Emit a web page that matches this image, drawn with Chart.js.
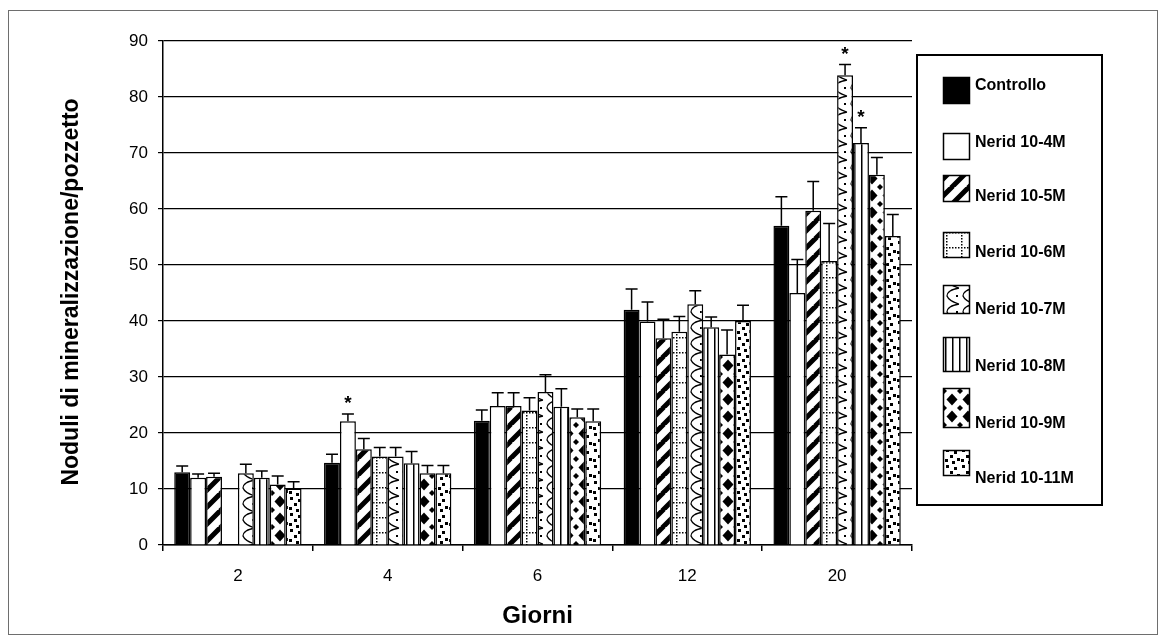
<!DOCTYPE html>
<html>
<head>
<meta charset="utf-8">
<script src="https://cdn.jsdelivr.net/npm/chart.js@4"></script>
<style>
  html, body { margin: 0; padding: 0; background: #fff; }
  canvas { display: block; }
</style>
</head>
<body>
<canvas id="chart" width="1166" height="641"></canvas>
<script>
// Giorni di coltura
const categories = ['2', '4', '6', '12', '20'];

// Noduli di mineralizzazione per pozzetto (media)
const controllo = [13, 14.7, 22.2, 42, 57];
const nerid4  = [12, 22.1, 24.8, 39.9, 45];
const nerid5  = [12.2, 17.1, 24.8, 36.9, 59.7];
const nerid6  = [null, 15.8, 24, 38.1, 50.7];
const nerid7  = [12.8, 15.8, 27.3, 43, 83.9];
const nerid8  = [12, 14.6, 24.7, 38.9, 71.8];
const nerid9  = [10.8, 12.8, 22.8, 34, 66.1];
const nerid11 = [10.1, 12.8, 22.1, 40, 55.2];

// Deviazione standard (barra superiore)
const errControllo = [1.1, 1.5, 1.9, 3.7, 5.2];
const errNerid4  = [0.7, 1.3, 2.4, 3.5, 6];
const errNerid5  = [0.6, 1.9, 2.4, 3.4, 5.2];
const errNerid6  = [1, 1.6, 2.3, 2.7, 6.7];
const errNerid7  = [1.6, 1.6, 3.1, 2.4, 1.9];
const errNerid8  = [1.2, 2.1, 3.2, 1.8, 2.7];
const errNerid9  = [1.5, 1.4, 1.5, 4.4, 3.1];
const errNerid11 = [1.2, 1.4, 2.2, 2.8, 3.8];

const seriesLabels = ['Controllo', 'Nerid 10-4M', 'Nerid 10-5M', 'Nerid 10-6M',
                      'Nerid 10-7M', 'Nerid 10-8M', 'Nerid 10-9M', 'Nerid 10-11M'];

// Differenze significative (*): serie -> giorni
const significant = { 'Nerid 10-4M': ['4'], 'Nerid 10-7M': ['20'], 'Nerid 10-8M': ['20'] };

const yTickMin = 0, yTickMax = 90, yTickStep = 10;
const yTitle = 'Noduli di mineralizzazione/pozzetto';
const xTitle = 'Giorni';

const FONT = '"Liberation Sans", Arial, sans-serif';

// ---- monochrome fill patterns ----
function makePattern(w, h, draw) {
  const c = document.createElement('canvas');
  c.width = w; c.height = h;
  const g = c.getContext('2d');
  g.fillStyle = '#fff';
  g.fillRect(0, 0, w, h);
  g.fillStyle = '#000';
  g.strokeStyle = '#000';
  draw(g, w, h);
  return g.createPattern(c, 'repeat');
}

const fillSolid = '#000';
const fillWhite = '#fff';
const fillStripes = makePattern(17, 17, (g, w, h) => {
  g.lineWidth = 5;
  g.beginPath();
  for (const k of [-w, 0, w]) { g.moveTo(k - 1, h + 1); g.lineTo(k + w + 1, -1); }
  g.stroke();
});
const fillDots = makePattern(15, 15, (g) => {
  for (let x = 4; x < 15; x += 3) g.fillRect(x, 7, 1.5, 1.5);
  for (let y = 1; y < 15; y += 3) g.fillRect(1, y, 1.5, 1.5);
});
const fillWaves = makePattern(16, 16, (g) => {
  g.lineWidth = 1.3;
  g.beginPath();
  g.moveTo(15, 0);
  g.quadraticCurveTo(3, 2, 3, 8);
  g.quadraticCurveTo(5, 13, 15, 16);
  g.stroke();
  g.fillRect(12, 7, 2, 2);
});
const fillVLines = makePattern(7, 4, (g) => {
  g.fillRect(0, 0, 1.5, 4);
});
const fillDiamonds = makePattern(16, 17, (g) => {
  g.beginPath();
  g.moveTo(8, 2.5); g.lineTo(13.5, 8.5); g.lineTo(8, 14.5); g.lineTo(2.5, 8.5);
  g.closePath(); g.fill();
  g.beginPath();
  g.moveTo(0, 0); g.lineTo(3, 0); g.lineTo(0, 3); g.closePath(); g.fill();
  g.beginPath();
  g.moveTo(16, 0); g.lineTo(13, 0); g.lineTo(16, 3); g.closePath(); g.fill();
  g.beginPath();
  g.moveTo(0, 17); g.lineTo(3, 17); g.lineTo(0, 14); g.closePath(); g.fill();
  g.beginPath();
  g.moveTo(16, 17); g.lineTo(13, 17); g.lineTo(16, 14); g.closePath(); g.fill();
});
const fillConfetti = makePattern(16, 16, (g) => {
  [[2, 1], [10, 3], [6, 7], [13, 10], [1, 11], [8, 13]].forEach(([x, y]) => g.fillRect(x, y, 3, 3));
});

const seriesValues = [controllo, nerid4, nerid5, nerid6, nerid7, nerid8, nerid9, nerid11];
const seriesErrors = [errControllo, errNerid4, errNerid5, errNerid6, errNerid7, errNerid8, errNerid9, errNerid11];
const seriesFills = [fillSolid, fillWhite, fillStripes, fillDots, fillWaves, fillVLines, fillDiamonds, fillConfetti];

const datasets = seriesLabels.map((label, i) => ({
  label,
  data: seriesValues[i],
  errors: seriesErrors[i],
  backgroundColor: seriesFills[i],
  borderColor: '#000',
  borderWidth: 1.5,
  categoryPercentage: 0.85,
  barPercentage: 1.0
}));

// Error bars and significance marks
const errorBarPlugin = {
  id: 'errorBars',
  afterDatasetsDraw(chart) {
    const ctx = chart.ctx;
    const yScale = chart.scales.y;
    ctx.save();
    ctx.strokeStyle = '#000';
    ctx.lineWidth = 1.5;
    chart.data.datasets.forEach((ds, i) => {
      const meta = chart.getDatasetMeta(i);
      meta.data.forEach((bar, j) => {
        const v = ds.data[j];
        if (v === null || v === undefined) return;
        const yTop = yScale.getPixelForValue(v + ds.errors[j]);
        ctx.beginPath();
        ctx.moveTo(bar.x, bar.y);
        ctx.lineTo(bar.x, yTop);
        ctx.moveTo(bar.x - 6, yTop);
        ctx.lineTo(bar.x + 6, yTop);
        ctx.stroke();
        const marks = significant[ds.label];
        if (marks && marks.includes(chart.data.labels[j])) {
          ctx.fillStyle = '#000';
          ctx.font = 'bold 19px ' + FONT;
          ctx.textAlign = 'center';
          ctx.textBaseline = 'alphabetic';
          ctx.fillText('*', bar.x, yTop - 16 + 11);
        }
      });
    });
    ctx.restore();
  }
};

// Boxed legend on the right, axis titles and outer frame
const decorPlugin = {
  id: 'decor',
  afterDraw(chart) {
    const ctx = chart.ctx;
    ctx.save();
    // outer frame
    ctx.strokeStyle = '#6e6e6e';
    ctx.lineWidth = 1;
    ctx.strokeRect(8.5, 10.5, 1149, 624);

    // axis titles
    ctx.fillStyle = '#000';
    ctx.font = 'bold 23px ' + FONT;
    ctx.textAlign = 'center';
    ctx.textBaseline = 'middle';
    ctx.save();
    ctx.translate(72, 292);
    ctx.rotate(-Math.PI / 2);
    ctx.fillText(yTitle, 0, 0);
    ctx.restore();
    ctx.font = 'bold 24px ' + FONT;
    ctx.textBaseline = 'alphabetic';
    ctx.fillText(xTitle, (chart.chartArea.left + chart.chartArea.right) / 2, 623);

    // legend box
    ctx.strokeStyle = '#000';
    ctx.lineWidth = 2;
    ctx.strokeRect(917, 55, 185, 450);
    const rows = [
      { y: 77, h: 27, ty: 86 },
      { y: 133, h: 27, ty: 143 },
      { y: 175, h: 27, ty: 197 },
      { y: 232, h: 26, ty: 253 },
      { y: 285, h: 29, ty: 310 },
      { y: 337, h: 35, ty: 367 },
      { y: 388, h: 40, ty: 424 },
      { y: 450, h: 26, ty: 479 }
    ];
    ctx.font = 'bold 16px ' + FONT;
    ctx.textAlign = 'left';
    ctx.textBaseline = 'middle';
    chart.data.datasets.forEach((ds, i) => {
      const r = rows[i];
      ctx.fillStyle = ds.backgroundColor;
      ctx.fillRect(943, r.y, 27, r.h);
      ctx.lineWidth = 1.5;
      ctx.strokeStyle = '#000';
      ctx.strokeRect(943.5, r.y + 0.5, 26, r.h - 1);
      ctx.fillStyle = '#000';
      ctx.fillText(ds.label, 975, r.ty);
    });
    ctx.restore();
  }
};

new Chart(document.getElementById('chart'), {
  type: 'bar',
  data: { labels: categories, datasets },
  options: {
    responsive: false,
    animation: false,
    layout: { padding: { top: 41, right: 254, bottom: 0, left: 0 } },
    plugins: {
      legend: { display: false },
      tooltip: { enabled: false }
    },
    scales: {
      x: {
        offset: true,
        grid: {
          offset: true,
          drawOnChartArea: false,
          drawTicks: true,
          tickLength: 6,
          color: '#000',
          lineWidth: 1.5
        },
        border: { display: true, color: '#000', width: 1.5 },
        ticks: { color: '#000', font: { family: FONT, size: 17 }, padding: 15 },
        afterFit(scale) { scale.height = 96; }
      },
      y: {
        min: yTickMin,
        max: yTickMax,
        ticks: { stepSize: yTickStep, color: '#000', font: { family: FONT, size: 17 }, padding: 10 },
        grid: { color: '#000', lineWidth: 1.2, tickLength: 5 },
        border: { display: true, color: '#000', width: 1.5 },
        afterFit(scale) { scale.width = 163; }
      }
    }
  },
  plugins: [errorBarPlugin, decorPlugin]
});
</script>
</body>
</html>
